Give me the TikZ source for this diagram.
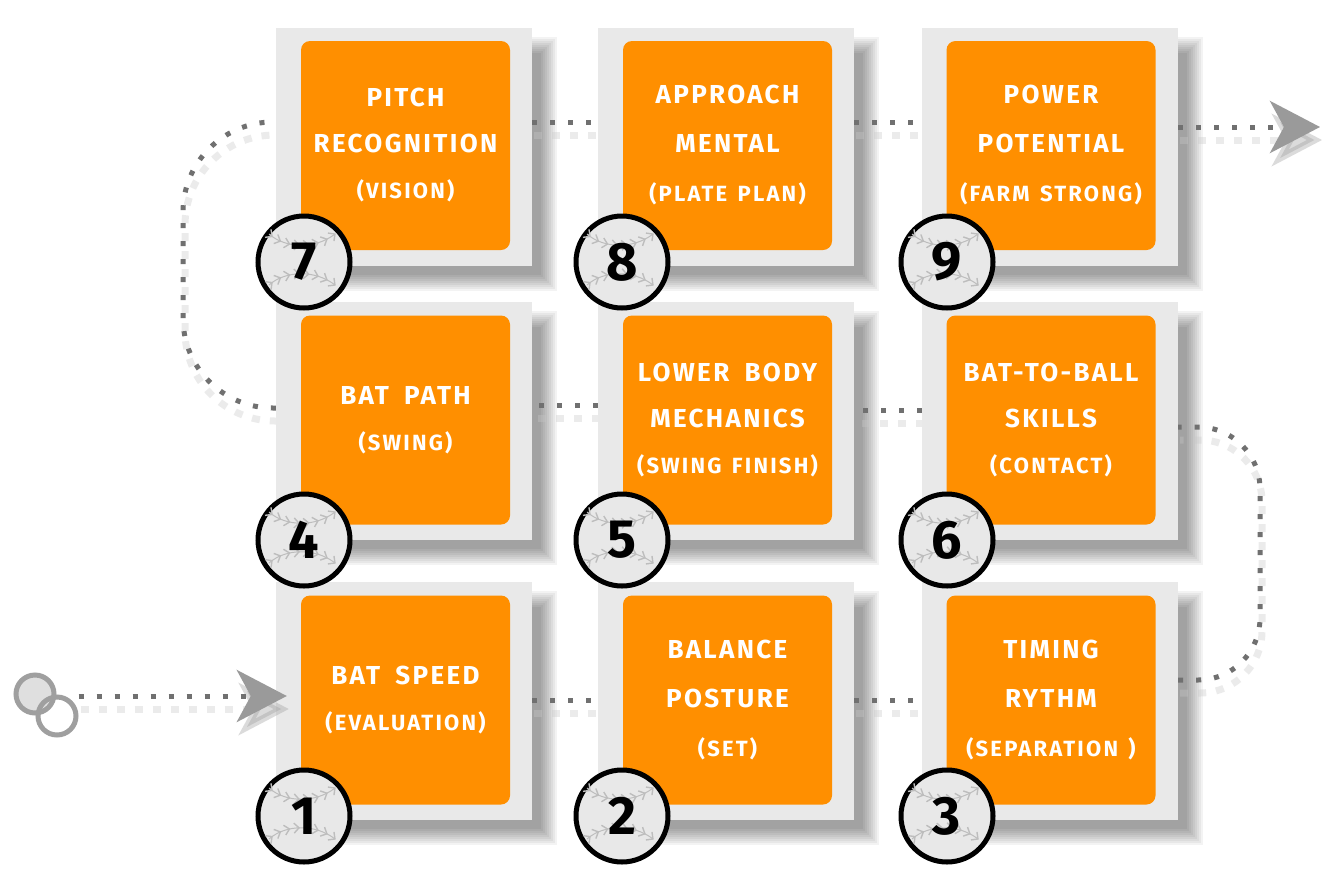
\documentclass[tikz,border=0pt]{standalone}
\usepackage{fontspec}
\setmainfont{Fira Sans}
\newfontfamily\tilefont[LetterSpace=9,WordSpace=1.8]{Fira Sans}
\newfontfamily\subfont[LetterSpace=10,WordSpace=1.4]{Fira Sans}
\newfontfamily\numfont{Fira Sans}
\usetikzlibrary{decorations.markings,arrows.meta}
\definecolor{orng}{HTML}{FF8F00}
\definecolor{platec}{HTML}{E9E9E9}
\definecolor{dotc}{HTML}{707070}
\definecolor{dotsh}{HTML}{C8C8C8}
\definecolor{seamc}{HTML}{BDBDBD}
\definecolor{ballc}{HTML}{E8E8E8}
\definecolor{arrowc}{HTML}{9A9A9A}
\pgfdeclarelayer{bg}
\pgfdeclarelayer{paper}
\pgfsetlayers{paper,bg,main}
\newcommand\subl{\subfont\bfseries\fontsize{22}{22}\selectfont}
\newcommand\connector[2][]{%
  \draw[connsh,#1,transform canvas={shift={(2pt,-13pt)}}] #2;
  \draw[conn,#1] #2;}
\tikzset{
  x=1pt, y=-1pt,
  tilebox/.style={rectangle, rounded corners=9pt, fill=orng, minimum width=209pt,
    minimum height=209pt, inner sep=0pt, text=white, align=center,
    font=\tilefont\bfseries\fontsize{26}{46}\selectfont},
  tilewide/.style={tilebox, font=\tilefont\bfseries\fontsize{26}{49}\selectfont},
  plate/.style={rectangle, fill=platec, minimum width=256pt, minimum height=238pt, inner sep=0pt},
  seam/.style={draw=seamc, line width=1pt, postaction={decorate}, decoration={markings,
      mark=between positions 0.04 and 0.99 step 0.135 with {\draw[seamc, line width=1.4pt] (-4,-5) -- (1,0) -- (-4,5);}}},
  ball/.style={circle, draw=black, line width=5pt, fill=ballc, minimum size=92pt, inner sep=0pt},
  num/.style={font=\numfont\bfseries\fontsize{54}{54}\selectfont, inner sep=0pt},
  conn/.style={draw=dotc, line width=5pt, dash pattern=on 5pt off 13pt},
  connsh/.style={draw=dotsh, line width=7pt, dash pattern=on 8pt off 10pt, opacity=0.35},
  tipstyle/.style={-{Stealth[length=50pt, width=52pt, inset=14pt, color=arrowc]}},
  ring/.style={circle, draw=gray!75, line width=5pt, minimum size=38pt, inner sep=0pt},
}
\begin{document}
\begin{tikzpicture}
\begin{pgfonlayer}{paper}
\useasboundingbox[fill=white] (0,0) rectangle (1328,892);
\end{pgfonlayer}

% plates
\node[plate] (p7) at (404,147) {};
\node[plate] (p8) at (726,147) {};
\node[plate] (p9) at (1050,147) {};
\node[plate] (p4) at (404,421) {};
\node[plate] (p5) at (726,421) {};
\node[plate] (p6) at (1050,421) {};
\node[plate] (p1) at (404,701) {};
\node[plate] (p2) at (726,701) {};
\node[plate] (p3) at (1050,701) {};

% shadows
\begin{pgfonlayer}{bg}
\foreach \i in {1,...,9}{
  \foreach \k in {-8,-6,...,8}{
    \fill[black, opacity=0.048] ([shift={(17+\k,17+\k)}]p\i.north west) rectangle ([shift={(17-\k,17-\k)}]p\i.south east);
  }
}
\end{pgfonlayer}

% start rings, start connector and end point
\node[ring, fill=gray!25] (s1) at (35,694) {};
\node[ring] (s2) at (57,716) {};
\coordinate (finish) at (1320,127);
\connector[tipstyle]{(s2.east |- 0,696) -- ([xshift=11pt]p1.west |- 0,696)}

% tiles
\node[tilebox] (t7) at (405.5,145.5) {PITCH\\RECOGNITION\\{\subl (VISION)}};
\node[tilewide] (t8) at (727.5,145.5) {APPROACH\\MENTAL\\{\subl (PLATE PLAN)}};
\node[tilewide] (t9) at (1051,145.5) {POWER\\POTENTIAL\\{\subl (FARM STRONG)}};
\node[tilebox] (t4) at (405.5,420) {BAT PATH\\{\subl (SWING)}};
\node[tilebox] (t5) at (727.5,420) {LOWER BODY\\MECHANICS\\{\subl (SWING FINISH)}};
\node[tilebox] (t6) at (1051,420) {BAT-TO-BALL\\SKILLS\\{\subl (CONTACT)}};
\node[tilebox] (t1) at (405.5,700) {BAT SPEED\\{\subl (EVALUATION)}};
\node[tilewide] (t2) at (727.5,700) {BALANCE\\POSTURE\\{\subl (SET)}};
\node[tilewide] (t3) at (1051,700) {TIMING\\RYTHM\\{\subl (SEPARATION )}};

% numbered balls
\node[ball] (b7) at (304,262) {};
\node[ball] (b8) at (622,262) {};
\node[ball] (b9) at (947,262) {};
\node[ball] (b4) at (304,540) {};
\node[ball] (b5) at (622,540) {};
\node[ball] (b6) at (947,540) {};
\node[ball] (b1) at (304,816) {};
\node[ball] (b2) at (622,816) {};
\node[ball] (b3) at (947,816) {};
\foreach \i in {1,...,9}{
  \begin{scope}[shift={(b\i.center)}]
    \path[seam] (-35,-28) .. controls (-18,-13) and (12,-13) .. (31,-28);
    \path[seam] (-35,23) .. controls (-18,8) and (12,8) .. (31,23);
  \end{scope}
  \node[num] (n\i) at (b\i.center) {\i};
}

% connectors
\begin{pgfonlayer}{bg}
\connector{(p1.east |- 0,700) -- (p2.west |- 0,700)}
\connector{(p2.east |- 0,700) -- (p3.west |- 0,700)}
\connector[rounded corners=62pt]{(p3.east |- 0,680) -- (1260,680) -- (1260,427) -- (p6.east |- 0,427)}
\connector{(p6.west |- 0,410) -- (p5.east |- 0,410)}
\connector{(p5.west |- 0,405) -- (p4.east |- 0,405)}
\connector[rounded corners=90pt]{(p4.west |- 0,408) -- (183,408) -- (183,122) -- (p7.west |- 0,122)}
\connector{(p7.east |- 0,122) -- (p8.west |- 0,122)}
\connector{(p8.east |- 0,122) -- (p9.west |- 0,122)}
\connector[tipstyle]{(p9.east |- 0,127) -- (finish)}
\end{pgfonlayer}
\end{tikzpicture}
\end{document}
